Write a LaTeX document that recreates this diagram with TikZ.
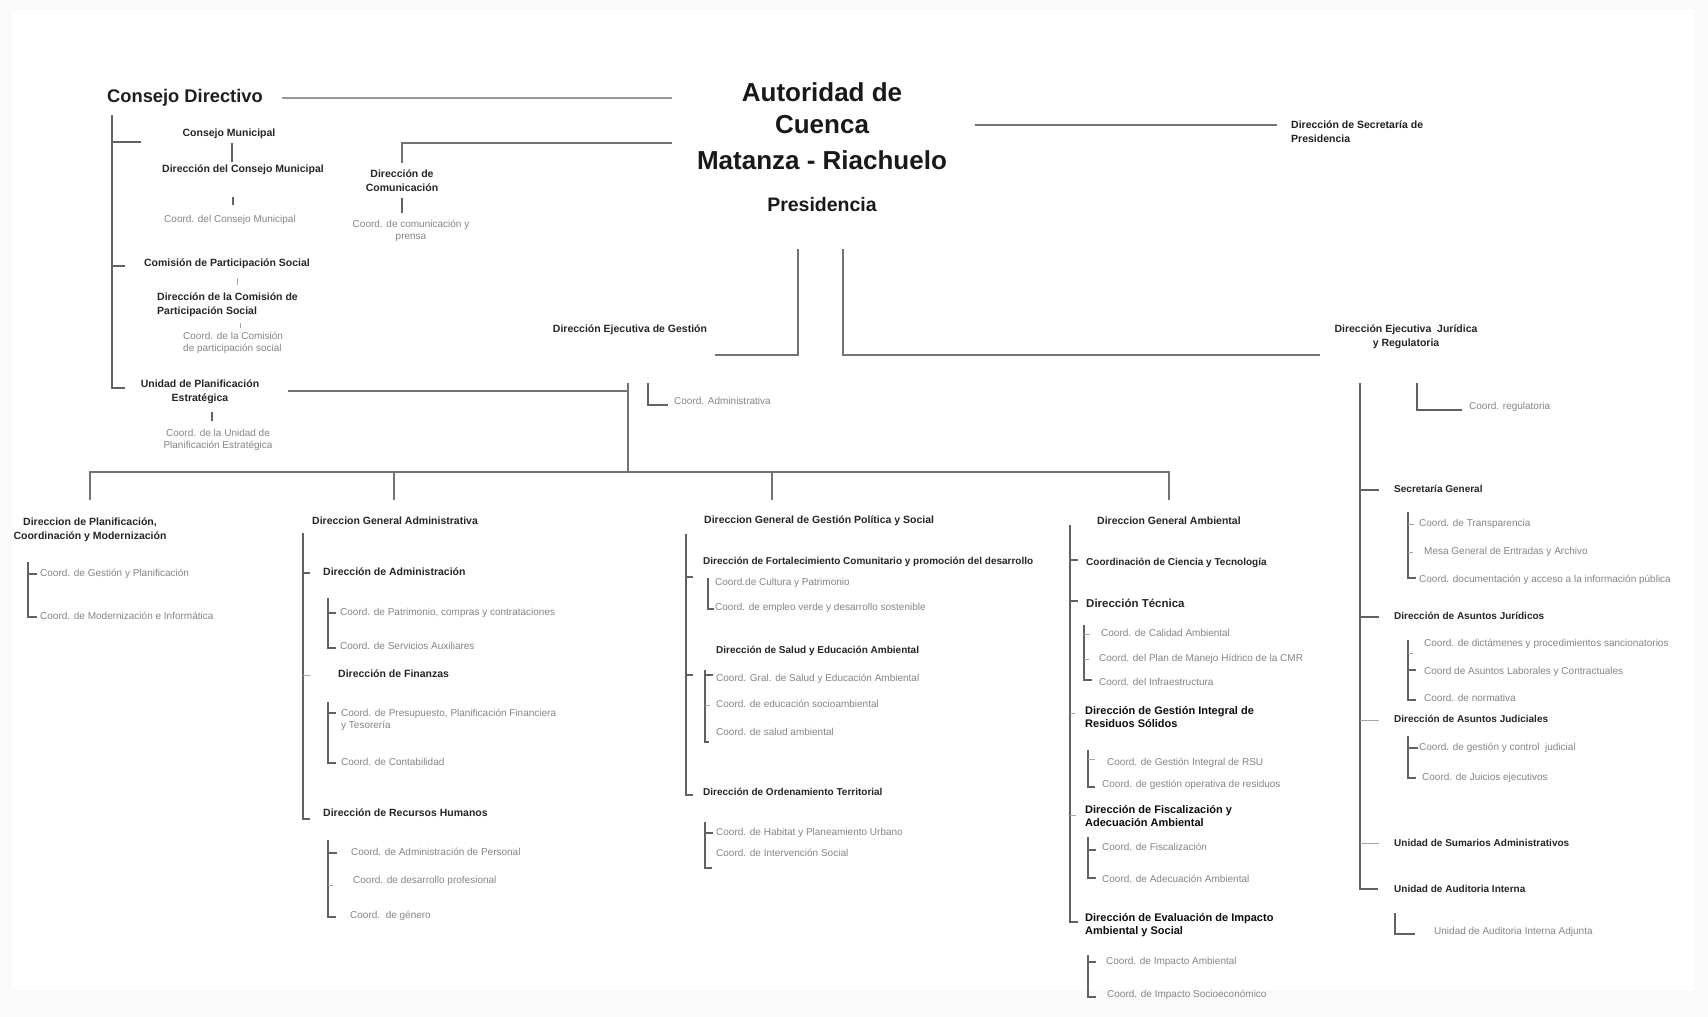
\documentclass[tikz,border=0pt]{standalone}
\usepackage{fontspec}
\setmainfont{Liberation Sans}
\begin{document}
\begin{tikzpicture}[x=1pt,y=-1pt,
  hd/.style={font=\bfseries\fontsize{10.5}{14}\selectfont, text=black!85, inner sep=0, anchor=west, text height=0.72em, text depth=0.22em},
  hdm/.style={font=\bfseries\fontsize{10.5}{14}\selectfont, text=black!85, inner sep=0, anchor=west, align=left},
  hdb/.style={font=\bfseries\fontsize{11}{13.5}\selectfont, text=black!95, inner sep=0, anchor=west, align=left},
  cd/.style={font=\fontsize{10}{13}\selectfont, text=black!48, inner sep=0, anchor=west, text height=0.72em, text depth=0.22em},
  cdm/.style={font=\fontsize{10}{12.5}\selectfont, text=black!48, inner sep=0, anchor=west, align=left},
  ctr/.style={anchor=center, align=center},
  ttl/.style={font=\bfseries\fontsize{26}{30}\selectfont, text=black!90, inner sep=0, anchor=center},
  ln/.style={draw=black!55, line width=2},
  br/.style={draw=black!62, line width=1.5},
  tk/.style={draw=black!35, line width=1}]
\useasboundingbox (0,0) rectangle (1708,1017);
\fill[black!2] (0,0) rectangle (1708,1017);
\fill[white] (12,10) rectangle (1695,990);

% ---------- title ----------
\node[ttl] (t1) at (822,92) {Autoridad de};
\node[ttl] (t2) at (822,125) {Cuenca};
\node[ttl] (t3) at (822,160) {Matanza - Riachuelo};
\node[font=\bfseries\fontsize{19.5}{22}\selectfont, text=black!90, inner sep=0] (pres) at (822,205) {Presidencia};

% ---------- top connectors ----------
\node[font=\bfseries\fontsize{18.3}{22}\selectfont, text=black!88, inner sep=0, anchor=west] (cdir) at (107,98) {Consejo Directivo};
\coordinate (cdirE) at (672,98);
\draw[ln, draw=black!40] (282,98) -- (cdirE);
\draw[ln] (402,163) -- (402,143) -- (672,143);
\node[hdm, font=\bfseries\fontsize{10.5}{14}\selectfont, text=black!88] (sec) at (1291,132) {Dirección de Secretaría de\\Presidencia};
\draw[ln] (975,125) -- (1277,125);
\draw[ln] (715,355) -- (798,355) -- (798,249);
\draw[ln] (843,249) -- (843,355) -- (1320,355);
\node[hd, anchor=center] (deg) at (630,330) {Dirección Ejecutiva de Gestión};
\node[hdm, ctr] (dej) at (1406,337) {Dirección Ejecutiva\ \ Jurídica\\y Regulatoria};

% ---------- Consejo Directivo branch ----------
\draw[br] (112,115) -- (112,388) -- (125,388);
\draw[br] (112,142) -- (141,142);
\draw[br] (112,266) -- (125,266);
\node[hd, anchor=center] (cmun) at (229,134) {Consejo Municipal};
\draw[br] (232,143) -- (232,162);
\node[hd, anchor=center] (dcmun) at (243,170) {Dirección del Consejo Municipal};
\draw[br] (233,197) -- (233,205);
\node[cd, anchor=center] (ccmun) at (230,220) {Coord. del Consejo Municipal};
\node[hd, anchor=center] (cps) at (227,264) {Comisión de Participación Social};
\draw[tk] (237,278) -- (237,285);
\node[hdm] (dcps) at (157,305) {Dirección de la Comisión de\\Participación Social};
\draw[tk] (240,323) -- (240,328);
\node[cdm] (ccps) at (183,343) {Coord. de la Comisión\\de participación social};
\node[hdm, ctr] (upe) at (200,392) {Unidad de Planificación\\Estratégica};
\draw[br] (212,412) -- (212,421);
\node[cdm, ctr] (cupe) at (218,440) {Coord. de la Unidad de\\Planificación Estratégica};

% Comunicación
\node[hdm, ctr] (dcom) at (402,181) {Dirección de\\Comunicación};
\draw[br] (402,198) -- (402,213);
\node[cdm, ctr] (ccom) at (411,231) {Coord. de comunicación y\\prensa};

% ---------- Gestión bus ----------
\draw[ln] (288,391) -- (628,391);
\draw[ln] (628,383) -- (628,472);
\draw[ln] (90,500) -- (90,472) -- (1169,472) -- (1169,500);
\draw[ln] (394,472) -- (394,500);
\draw[ln] (772,472) -- (772,500);
\draw[br] (648,383) -- (648,405) -- (668,405);
\node[cd] (cadm) at (674,402) {Coord. Administrativa};

% ---------- Column 1 ----------
\node[hdm, ctr] (dpcm) at (90,530) {Direccion de Planificación,\\Coordinación y Modernización};
\draw[br] (28,562) -- (28,617) -- (37,617);
\draw[br] (28,574) -- (37,574);
\node[cd] (cgp) at (40,574) {Coord. de Gestión y Planificación};
\node[cd] (cmi) at (40,617) {Coord. de Modernización e Informática};

% ---------- Column 2 ----------
\node[hd] (dga) at (312,522) {Direccion General Administrativa};
\draw[br] (303,533) -- (303,819) -- (310,819);
\draw[br] (303,573) -- (310,573);
\draw[tk] (303,675) -- (310,675);
\node[hd] (dadm) at (323,573) {Dirección de Administración};
\draw[br] (328,598) -- (328,648) -- (336,648);
\draw[br] (328,613) -- (336,613);
\node[cd] (cpat) at (340,613) {Coord. de Patrimonio, compras y contrataciones};
\node[cd] (csa) at (340,647) {Coord. de Servicios Auxiliares};
\node[hd] (dfin) at (338,675) {Dirección de Finanzas};
\draw[br] (328,702) -- (328,763) -- (336,763);
\draw[br] (328,713) -- (336,713);
\node[cdm] (cpres) at (341,720) {Coord. de Presupuesto, Planificación Financiera\\y Tesorería};
\node[cd] (ccont) at (341,763) {Coord. de Contabilidad};
\node[hd] (drh) at (323,814) {Dirección de Recursos Humanos};
\draw[br] (328,840) -- (328,917) -- (336,917);
\draw[br] (328,853) -- (337,853);
\draw[tk] (328,885) -- (333,885);
\node[cd] (cap) at (351,853) {Coord. de Administración de Personal};
\node[cd] (cdp) at (353,881) {Coord. de desarrollo profesional};
\node[cd] (cgen) at (350,916) {Coord.\ \ de género};

% ---------- Column 3 ----------
\node[hd] (dgps) at (704,521) {Direccion General de Gestión Política y Social};
\draw[br] (686,534) -- (686,795) -- (693,795);
\draw[br] (686,577) -- (693,577);
\draw[br] (686,675) -- (693,675);
\node[hd, font=\bfseries\fontsize{10}{13}\selectfont] (dfc) at (703,562) {Dirección de Fortalecimiento Comunitario y promoción del desarrollo};
\draw[br] (708,578) -- (708,609) -- (714,609);
\node[cd] (ccp) at (715,583) {Coord.de Cultura y Patrimonio};
\node[cd] (cev) at (715,608) {Coord. de empleo verde y desarrollo sostenible};
\node[hd, font=\bfseries\fontsize{10}{13}\selectfont] (dsea) at (716,651) {Dirección de Salud y Educación Ambiental};
\draw[br] (705,670) -- (705,742) -- (709,742);
\draw[br] (705,675) -- (713,675);
\draw[tk] (705,705) -- (710,705);
\node[cd] (cgsea) at (716,679) {Coord. Gral. de Salud y Educación Ambiental};
\node[cd] (ces) at (716,705) {Coord. de educación socioambiental};
\node[cd] (csam) at (716,733) {Coord. de salud ambiental};
\node[hd, font=\bfseries\fontsize{10}{13}\selectfont] (dot) at (703,793) {Dirección de Ordenamiento Territorial};
\draw[br] (705,822) -- (705,868) -- (712,868);
\draw[br] (705,833) -- (713,833);
\node[cd] (chpu) at (716,833) {Coord. de Habitat y Planeamiento Urbano};
\node[cd] (cis) at (716,854) {Coord. de Intervención Social};

% ---------- Column 4 ----------
\node[hd] (dgamb) at (1097,522) {Direccion General Ambiental};
\draw[br] (1070,525) -- (1070,922) -- (1078,922);
\draw[br] (1070,560) -- (1078,560);
\draw[br] (1070,601) -- (1078,601);
\draw[tk] (1070,713) -- (1075,713);
\draw[tk] (1070,815) -- (1076,815);
\node[hd, font=\bfseries\fontsize{10}{13}\selectfont] (ccyt) at (1086,563) {Coordinación de Ciencia y Tecnología};
\node[hd, font=\bfseries\fontsize{11.5}{14}\selectfont] (dtec) at (1086,605) {Dirección Técnica};
\draw[br] (1084,625) -- (1084,680) -- (1092,680);
\draw[tk] (1084,634) -- (1090,634);
\draw[tk] (1084,659) -- (1089,659);
\node[cd] (cca) at (1101,634) {Coord. de Calidad Ambiental};
\node[cd] (cpmh) at (1099,659) {Coord. del Plan de Manejo Hídrico de la CMR};
\node[cd] (cinf) at (1099,683) {Coord. del Infraestructura};
\node[hdb] (dgirs) at (1085,717) {Dirección de Gestión Integral de\\Residuos Sólidos};
\draw[br] (1088,750) -- (1088,787) -- (1095,787);
\draw[tk] (1088,759) -- (1095,759);
\node[cd] (crsu) at (1107,763) {Coord. de Gestión Integral de RSU};
\node[cd] (cgor) at (1102,785) {Coord. de gestión operativa de residuos};
\node[hdb] (dfaa) at (1085,816) {Dirección de Fiscalización y\\Adecuación Ambiental};
\draw[br] (1088,837) -- (1088,878) -- (1096,878);
\draw[br] (1088,850) -- (1096,850);
\node[cd] (cfis) at (1102,848) {Coord. de Fiscalización};
\node[cd] (cadam) at (1102,880) {Coord. de Adecuación Ambiental};
\node[hdb] (deia) at (1085,925) {Dirección de Evaluación de Impacto\\Ambiental y Social};
\draw[br] (1088,955) -- (1088,997) -- (1096,997);
\draw[br] (1088,962) -- (1096,962);
\node[cd] (cia) at (1106,962) {Coord. de Impacto Ambiental};
\node[cd] (cise) at (1107,995) {Coord. de Impacto Socioeconómico};

% ---------- Right branch ----------
\draw[br] (1360,383) -- (1360,889) -- (1378,889);
\draw[br] (1360,490) -- (1379,490);
\draw[br] (1360,617) -- (1379,617);
\draw[tk] (1360,720) -- (1379,720);
\draw[tk] (1360,843) -- (1379,843);
\draw[br] (1417,383) -- (1417,410) -- (1462,410);
\node[cd] (creg) at (1469,407) {Coord. regulatoria};
\node[hd, font=\bfseries\fontsize{10}{13}\selectfont] (sg) at (1394,490) {Secretaría General};
\draw[br] (1408,512) -- (1408,578) -- (1416,578);
\draw[tk] (1408,524) -- (1414,524);
\draw[tk] (1408,552) -- (1413,552);
\node[cd] (ctr) at (1419,524) {Coord. de Transparencia};
\node[cd] (mge) at (1424,552) {Mesa General de Entradas y Archivo};
\node[cd] (cdoc) at (1419,580) {Coord. documentación y acceso a la información pública};
\node[hd, font=\bfseries\fontsize{10}{13}\selectfont] (daj) at (1394,617) {Dirección de Asuntos Jurídicos};
\draw[br] (1408,640) -- (1408,700) -- (1416,700);
\draw[tk] (1408,653) -- (1413,653);
\draw[br] (1408,670) -- (1416,670);
\node[cd] (cdps) at (1424,644) {Coord. de dictámenes y procedimientos sancionatorios};
\node[cd] (calc) at (1424,672) {Coord de Asuntos Laborales y Contractuales};
\node[cd] (cnor) at (1424,699) {Coord. de normativa};
\node[hd, font=\bfseries\fontsize{10}{13}\selectfont] (dajud) at (1394,720) {Dirección de Asuntos Judiciales};
\draw[br] (1408,736) -- (1408,778) -- (1416,778);
\draw[br] (1408,748) -- (1418,748);
\node[cd] (cgcj) at (1419,748) {Coord. de gestión y control\ \ judicial};
\node[cd] (cje) at (1422,778) {Coord. de Juicios ejecutivos};
\node[hd, font=\bfseries\fontsize{10}{13}\selectfont] (usa) at (1394,844) {Unidad de Sumarios Administrativos};
\node[hd, font=\bfseries\fontsize{10}{13}\selectfont] (uai) at (1394,890) {Unidad de Auditoria Interna};
\draw[br] (1395,913) -- (1395,934) -- (1415,934);
\node[cd] (uaia) at (1434,932) {Unidad de Auditoria Interna Adjunta};
\end{tikzpicture}
\end{document}
